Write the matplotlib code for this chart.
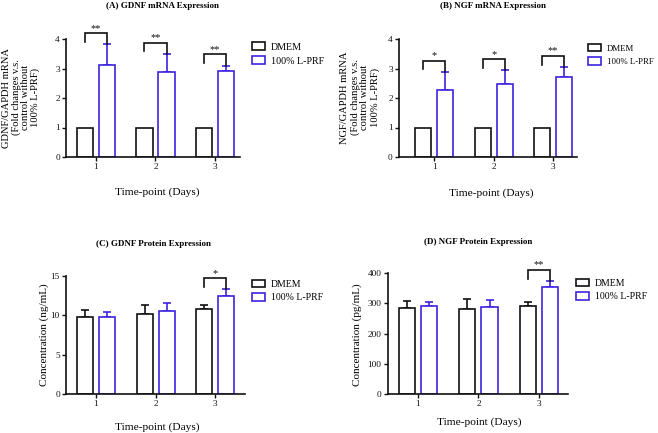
import matplotlib
matplotlib.use("Agg")
import matplotlib.pyplot as plt
from matplotlib.patches import Patch
import numpy as np

plt.rcParams['font.family'] = ['Liberation Serif', 'DejaVu Serif']

days = [1, 2, 3]
day_labels = ["1", "2", "3"]
series_names = ["DMEM", "100% L-PRF"]

# (A) GDNF mRNA
a_dmem = [1.0, 1.0, 1.0]
a_dmem_err = [0.0, 0.0, 0.0]
a_prf = [3.13, 2.88, 2.92]
a_prf_err = [0.69, 0.60, 0.18]
a_sig = ["**", "**", "**"]
a_sig_h = [4.19, 3.88, 3.48]

# (B) NGF mRNA
b_dmem = [1.0, 1.0, 1.0]
b_dmem_err = [0.0, 0.0, 0.0]
b_prf = [2.26, 2.46, 2.72]
b_prf_err = [0.63, 0.49, 0.34]
b_sig = ["*", "*", "**"]
b_sig_h = [3.27, 3.31, 3.42]

# (C) GDNF protein (ng/mL)
c_dmem = [9.76, 10.18, 10.73]
c_dmem_err = [0.89, 1.06, 0.55]
c_prf = [9.80, 10.56, 12.42]
c_prf_err = [0.55, 1.04, 0.88]
c_sig = [None, None, "*"]
c_sig_h = [None, None, 14.66]

# (D) NGF protein (pg/mL)
d_dmem = [284, 282, 292]
d_dmem_err = [24, 32, 14]
d_prf = [290, 288, 356]
d_prf_err = [16, 24, 19]
d_sig = [None, None, "**"]
d_sig_h = [None, None, 411]

BLUE = '#3d22e0'
BLACK = '#111111'

W, H = 658, 433
fig = plt.figure(figsize=(W / 100, H / 100), dpi=100)


def fx(px):
    return px / W


def fy(py):
    return 1 - py / H


panels = [
    dict(rect=(66, 39, 240, 157), xlim=(0.496, 3.42), ylim=4, yticks=[0, 1, 2, 3, 4],
         dmem=a_dmem, dmem_err=a_dmem_err, prf=a_prf, prf_err=a_prf_err,
         sig=a_sig, sig_h=a_sig_h,
         title="(A) GDNF mRNA Expression", title_xy=(163, 6),
         ylabel="GDNF/GAPDH mRNA\n(Fold changes v.s.\ncontrol without\n100% L-PRF)",
         ylabel_xy=(21, 97.5), ylabel_fs=7.6, ylabel_ls=1.0,
         xlabel_xy=(157, 192), legend_xy=(252, 54), legend_fs=7.2),
    dict(rect=(399, 39, 577, 157), xlim=(0.41, 3.40), ylim=4, yticks=[0, 1, 2, 3, 4],
         dmem=b_dmem, dmem_err=b_dmem_err, prf=b_prf, prf_err=b_prf_err,
         sig=b_sig, sig_h=b_sig_h,
         title="(B) NGF mRNA Expression", title_xy=(493, 6),
         ylabel="NGF/GAPDH mRNA\n(Fold changes v.s.\ncontrol without\n100% L-PRF)",
         ylabel_xy=(360, 97.5), ylabel_fs=7.6, ylabel_ls=1.1,
         xlabel_xy=(491, 193), legend_xy=(588, 55), legend_fs=6.3),
    dict(rect=(66, 275.7, 245, 394), xlim=(0.496, 3.5), ylim=15, yticks=[0, 5, 10, 15],
         dmem=c_dmem, dmem_err=c_dmem_err, prf=c_prf, prf_err=c_prf_err,
         sig=c_sig, sig_h=c_sig_h,
         title="(C) GDNF Protein Expression", title_xy=(153, 244),
         ylabel="Concentration (ng/mL)",
         ylabel_xy=(44, 335), ylabel_fs=8.0, ylabel_ls=1.0,
         xlabel_xy=(157, 427), legend_xy=(252, 291), legend_fs=7.0),
    dict(rect=(387.7, 273.3, 568, 394), xlim=(0.5, 3.48), ylim=400, yticks=[0, 100, 200, 300, 400],
         dmem=d_dmem, dmem_err=d_dmem_err, prf=d_prf, prf_err=d_prf_err,
         sig=d_sig, sig_h=d_sig_h,
         title="(D) NGF Protein Expression", title_xy=(478, 242),
         ylabel="Concentration (pg/mL)",
         ylabel_xy=(357, 334.5), ylabel_fs=8.0, ylabel_ls=1.0,
         xlabel_xy=(479, 422), legend_xy=(576, 290), legend_fs=7.0),
]

bw = 0.27
off = 0.185
lw = 1.2

for p in panels:
    x0, y0, x1, y1 = p['rect']
    ax = fig.add_axes([fx(x0), fy(y1), fx(x1 - x0), (y1 - y0) / H])
    x = np.array(days, dtype=float)
    ymax = p['ylim']
    ax.bar(x - off, p['dmem'], width=bw, facecolor='white', edgecolor=BLACK, linewidth=lw, zorder=2)
    ax.bar(x + off, p['prf'], width=bw, facecolor='white', edgecolor=BLUE, linewidth=lw, zorder=2)
    de = np.array(p['dmem_err'])
    pe = np.array(p['prf_err'])
    mask = de > 0
    if mask.any():
        ax.errorbar((x - off)[mask], np.array(p['dmem'])[mask], yerr=[np.zeros(mask.sum()), de[mask]],
                    fmt='none', ecolor=BLACK, elinewidth=lw, capsize=3.2, capthick=lw, zorder=1)
    ax.errorbar(x + off, p['prf'], yerr=[np.zeros(3), pe], fmt='none', ecolor=BLUE,
                elinewidth=lw, capsize=3.2, capthick=lw, zorder=1)
    # significance brackets
    for i in range(3):
        if p['sig'][i] is None:
            continue
        h = p['sig_h'][i]
        xl = x[i] - off
        xr = x[i] + off
        yl = h - 0.075 * ymax
        yr = p['prf'][i] + p['prf_err'][i]
        ax.plot([xl, xl, xr, xr], [yl, h, h, yr], color=BLACK, lw=lw, clip_on=False,
                solid_joinstyle='miter', zorder=3)
        ax.text((xl + xr) / 2, h + 0.005 * ymax, p['sig'][i], ha='center', va='bottom',
                fontsize=7.5, color=BLACK, clip_on=False)
    ax.set_xlim(*p['xlim'])
    ax.set_ylim(0, ymax)
    ax.set_xticks(days)
    ax.set_xticklabels(day_labels)
    ax.set_yticks(p['yticks'])
    ax.tick_params(axis='both', direction='out', length=3, width=1.0, labelsize=6.7, pad=1.5,
                   colors=BLACK)
    for s in ['top', 'right']:
        ax.spines[s].set_visible(False)
    for s in ['left', 'bottom']:
        ax.spines[s].set_linewidth(lw)
        ax.spines[s].set_color(BLACK)
    ax.patch.set_alpha(0)

    fig.text(fx(p['title_xy'][0]), fy(p['title_xy'][1]), p['title'], ha='center', va='center',
             fontsize=6.5, fontweight='bold')
    fig.text(fx(p['xlabel_xy'][0]), fy(p['xlabel_xy'][1]), "Time-point (Days)", ha='center',
             va='center', fontsize=8.2)
    fig.text(fx(p['ylabel_xy'][0]), fy(p['ylabel_xy'][1]), p['ylabel'], ha='center', va='center',
             rotation=90, fontsize=p['ylabel_fs'], linespacing=p['ylabel_ls'],
             multialignment='center')

    handles = [Patch(facecolor='white', edgecolor=BLACK, linewidth=lw),
               Patch(facecolor='white', edgecolor=BLUE, linewidth=lw)]
    fs = p['legend_fs']
    fig.legend(handles, series_names, loc='center left',
               bbox_to_anchor=(fx(p['legend_xy'][0]), fy(p['legend_xy'][1])),
               bbox_transform=fig.transFigure, frameon=False, fontsize=fs,
               handlelength=1.3 * 7.2 / fs, handleheight=0.8 * 7.2 / fs,
               handletextpad=0.6 * 7.2 / fs, labelspacing=0.45 * 7.2 / fs,
               borderpad=0, borderaxespad=0)

fig.savefig("out.png", dpi=100)
